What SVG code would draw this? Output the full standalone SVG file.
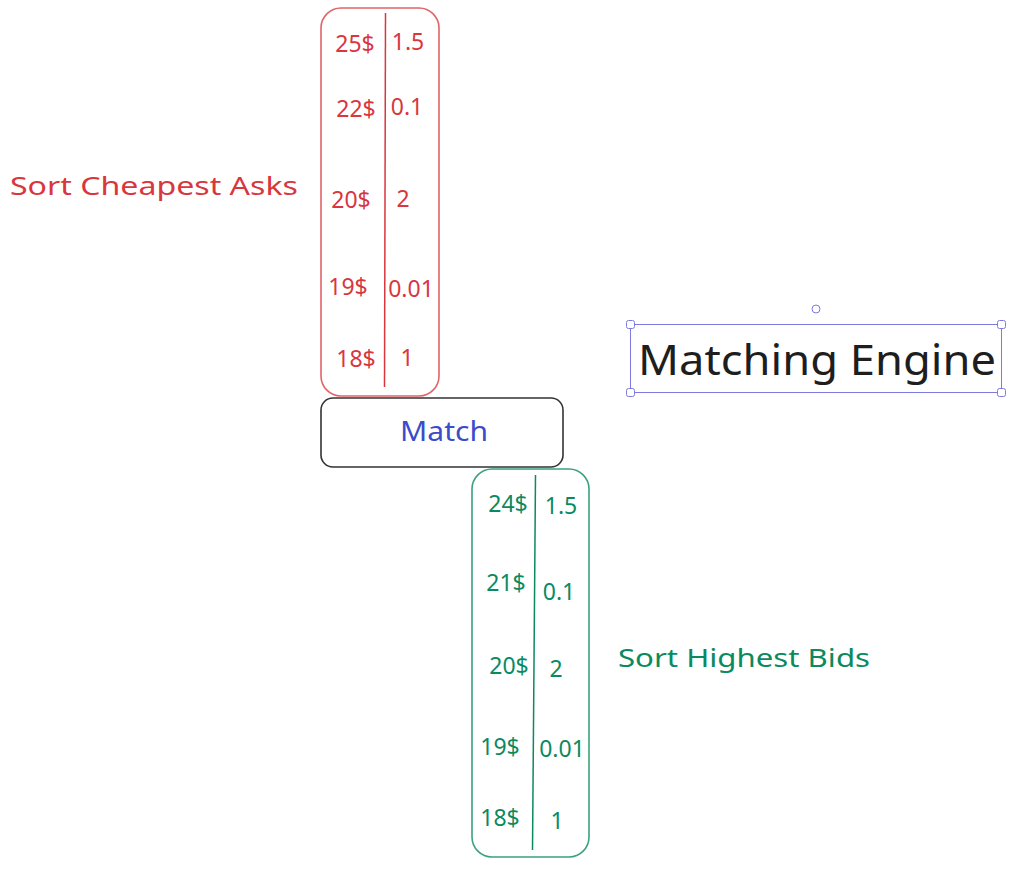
<svg xmlns="http://www.w3.org/2000/svg" width="1024" height="872" viewBox="0 0 1024 872">
<style>
text{font-family:"Noto Sans","Liberation Sans",sans-serif;text-anchor:middle;dominant-baseline:central}
.red{fill:#d9363e}
.grn{fill:#0b8a5f}
.num{font-size:23px}
.box{fill:none;stroke-width:1.6}
.sel{fill:#fff;stroke:#7d7ae0;stroke-width:1}
</style>
<rect width="1024" height="872" fill="#fff"/>
<g id="asks">
<rect class="box" x="321" y="8" width="118" height="388" rx="20" stroke="#e06468"/>
<line x1="385.5" y1="13" x2="384.5" y2="387" stroke="#d9363e" stroke-width="1.5"/>
<g class="red num">
<text x="355" y="43">25$</text><text x="408" y="41">1.5</text>
<text x="356" y="108">22$</text><text x="407" y="106">0.1</text>
<text x="351" y="199">20$</text><text x="403" y="198">2</text>
<text x="348" y="286">19$</text><text x="411" y="288">0.01</text>
<text x="356" y="358">18$</text><text x="407" y="357">1</text>
</g>
</g>
<g id="match">
<rect class="box" x="321" y="398" width="242" height="69" rx="12" stroke="#333"/>
<text x="444" y="430" font-size="27" fill="#3b4cc9" textLength="88" lengthAdjust="spacingAndGlyphs">Match</text>
</g>
<g id="bids">
<rect class="box" x="472" y="469" width="117" height="388" rx="20" stroke="#3aa37c"/>
<line x1="535.5" y1="475" x2="532.5" y2="850" stroke="#0b8a5f" stroke-width="1.5"/>
<g class="grn num">
<text x="508" y="503">24$</text><text x="561" y="505">1.5</text>
<text x="506" y="582">21$</text><text x="559" y="591">0.1</text>
<text x="509" y="665">20$</text><text x="556" y="668">2</text>
<text x="500" y="746">19$</text><text x="562" y="748">0.01</text>
<text x="500" y="817">18$</text><text x="557" y="820">1</text>
</g>
</g>
<g id="label-asks">
<text x="154" y="185" font-size="26" class="red" textLength="288" lengthAdjust="spacingAndGlyphs">Sort Cheapest Asks</text>
</g>
<g id="label-bids">
<text x="744" y="657" font-size="26" class="grn" textLength="252" lengthAdjust="spacingAndGlyphs">Sort Highest Bids</text>
</g>
<g id="engine">
<rect x="630.5" y="324.5" width="371" height="68" fill="none" stroke="#7d7ae0" stroke-width="1"/>
<rect class="sel" x="626.5" y="320.5" width="8" height="8" rx="2"/>
<rect class="sel" x="997.5" y="320.5" width="8" height="8" rx="2"/>
<rect class="sel" x="626.5" y="388.5" width="8" height="8" rx="2"/>
<rect class="sel" x="997.5" y="388.5" width="8" height="8" rx="2"/>
<circle class="sel" cx="816" cy="309" r="4"/>
<text x="817" y="358" font-size="42" fill="#1e1e1e" textLength="358" lengthAdjust="spacingAndGlyphs">Matching Engine</text>
</g>
</svg>
